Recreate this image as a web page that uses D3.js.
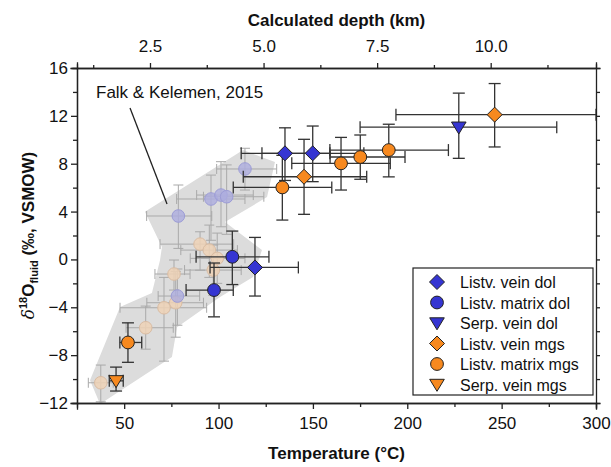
<!DOCTYPE html>
<html>
<head>
<meta charset="utf-8">
<script src="https://cdn.jsdelivr.net/npm/d3@7"></script>
<style>
  body { margin: 0; background: #fff; }
  svg { font-family: "Liberation Sans", Arial, sans-serif; }
  .axis text { font-size: 17px; fill: #111; }
  .axis path, .axis line { stroke: #222; stroke-width: 1.3; }
</style>
</head>
<body>
<svg class="chart" width="611" height="467"></svg>
<script>
// temperature (C) and d18O fluid, with error bar ends
const listvVeinDol = [
  { t: 135.2, d: 8.87, tLo: 112, tHi: 159, dLo: 6.6, dHi: 11.0 },
  { t: 149.9, d: 8.87, tLo: 123, tHi: 177, dLo: 6.5, dHi: 11.15 },
  { t: 119.3, d: -0.67, tLo: 95.5, tHi: 142.3, dLo: -3.06, dHi: 1.84 }
];
const listvMatrixDol = [
  { t: 107.3, d: 0.22, tLo: 88.1, tHi: 126.7, dLo: -2.1, dHi: 2.37 },
  { t: 97.6, d: -2.56, tLo: 82.8, tHi: 107.8, dLo: -4.8, dHi: -0.3 }
];
const serpVeinDol = [
  { t: 227.3, d: 11.05, tLo: 175, tHi: 279.2, dLo: 8.45, dHi: 13.9 }
];
const listvVeinMgs = [
  { t: 246.3, d: 12.1, tLo: 194, tHi: 300, dLo: 9.4, dHi: 14.7 },
  { t: 145.3, d: 6.91, tLo: 113.1, tHi: 178.5, dLo: 3.77, dHi: 10.04 }
];
const listvMatrixMgs = [
  { t: 133.8, d: 6.02, tLo: 107.8, tHi: 160, dLo: 3.29, dHi: 8.7 },
  { t: 164.9, d: 8.03, tLo: 138.8, tHi: 191, dLo: 5.8, dHi: 10.2 },
  { t: 175.1, d: 8.56, tLo: 159.1, tHi: 198.8, dLo: 6.7, dHi: 10.4 },
  { t: 190.2, d: 9.14, tLo: 159, tHi: 221.8, dLo: 6.9, dHi: 11.3 },
  { t: 52, d: -6.94, tLo: 47.7, tHi: 59.3, dLo: -8.6, dHi: -5.3 }
];
const serpVeinMgs = [
  { t: 45.7, d: -10.15, tLo: 42.1, tHi: 49.5, dLo: -11.0, dHi: -9.0 }
];

// Falk & Kelemen, 2015 (faded)
const falkDol = [
  { t: 78.7, d: 3.63, tLo: 61.9, tHi: 96.4, dLo: 0.92, dHi: 6.22 },
  { t: 96, d: 5.05, tLo: 77.8, tHi: 114, dLo: 1.6, dHi: 7.05 },
  { t: 101.3, d: 5.38, tLo: 88.4, tHi: 118.4, dLo: 2.73, dHi: 8.17 },
  { t: 104.3, d: 5.24, tLo: 92, tHi: 124, dLo: 2.1, dHi: 7.9 },
  { t: 114, d: 7.56, tLo: 99, tHi: 130.8, dLo: 5.8, dHi: 9.29 },
  { t: 78.2, d: -3.06, tLo: 68, tHi: 90, dLo: -5.5, dHi: -0.8 }
];
const falkMgs = [
  { t: 90.2, d: 1.28, tLo: 69, tHi: 108, dLo: -0.9, dHi: 2.31 },
  { t: 95.1, d: 0.78, tLo: 80, tHi: 110, dLo: -1.5, dHi: 2.87 },
  { t: 99.3, d: 0.09, tLo: 85, tHi: 114, dLo: -2.0, dHi: 2.2 },
  { t: 97.2, d: -0.89, tLo: 82, tHi: 112, dLo: -3.0, dHi: 1.2 },
  { t: 76.4, d: -1.22, tLo: 66.3, tHi: 84.9, dLo: -2.56, dHi: -0.05 },
  { t: 77.3, d: -3.62, tLo: 62, tHi: 92, dLo: -6.5, dHi: -1.0 },
  { t: 71.1, d: -4.04, tLo: 47.8, tHi: 93.7, dLo: -8.5, dHi: -1.5 },
  { t: 61.4, d: -5.71, tLo: 51, tHi: 76, dLo: -7.5, dHi: -3.9 },
  { t: 37.6, d: -10.31, tLo: 31, tHi: 44.2, dLo: -11.9, dHi: -8.83 }
];
// outline of the grey field
const falkFieldT = [61.0, 113.0, 129.9, 125.7, 103.4, 123.0, 118.3, 100.8, 78.0, 75.3, 37.2, 31.9, 47.8, 64.7, 69.0, 70.0];
const falkFieldD = [3.98, 9.14, 8.14, 5.21, 3.12, 0.78, -1.47, -3.15, -5.66, -8.16, -12.09, -10.09, -3.98, -2.81, -0.05, 1.03];

const tempTicks = [50, 100, 150, 200, 250, 300];
const tempMinor = [75, 125, 175, 225, 275];
const d18Ticks = [-12, -8, -4, 0, 4, 8, 12, 16];
const d18Minor = [-10, -6, -2, 2, 6, 10, 14];
const depthTicks = [2.5, 5.0, 7.5, 10.0];
const depthMinor = [1.25, 3.75, 6.25, 8.75, 11.25];

const legendLabels = ['Listv. vein dol', 'Listv. matrix dol', 'Serp. vein dol',
  'Listv. vein mgs', 'Listv. matrix mgs', 'Serp. vein mgs'];

// geotherm used for the top axis
const SURFACE_T = 3.5;
const GRADIENT = 24.07; // C per km

const BLUE = '#3535d2';
const ORANGE = '#f7891f';

const drawChart = () => {
  const svg = d3.select('.chart');
  const left = 77, right = 596, top = 68, bottom = 403;

  const x = d3.scaleLinear().domain([25, 300]).range([left, right]);
  const y = d3.scaleLinear().domain([-12, 16]).range([bottom, top]);
  const depth = d3.scaleLinear()
    .domain([(25 - SURFACE_T) / GRADIENT, (300 - SURFACE_T) / GRADIENT])
    .range([left, right]);

  svg.append('clipPath').attr('id', 'plotClip')
    .append('rect').attr('x', left).attr('y', top)
    .attr('width', right - left).attr('height', bottom - top);

  const plot = svg.append('g').attr('clip-path', 'url(#plotClip)');

  // grey field
  plot.append('path')
    .datum(d3.zip(falkFieldT, falkFieldD))
    .attr('d', d3.line().x((p) => x(p[0])).y((p) => y(p[1])).curve(d3.curveLinearClosed))
    .attr('fill', '#dcdcdc');

  const errorBars = (g, data, color, width, cap) => {
    var bars = g.append('g').attr('stroke', color).attr('stroke-width', width).attr('fill', 'none');
    data.forEach((p) => {
      bars.append('line').attr('x1', x(p.tLo)).attr('x2', x(p.tHi)).attr('y1', y(p.d)).attr('y2', y(p.d));
      bars.append('line').attr('x1', x(p.t)).attr('x2', x(p.t)).attr('y1', y(p.dLo)).attr('y2', y(p.dHi));
      [p.tLo, p.tHi].forEach((v) => bars.append('line')
        .attr('x1', x(v)).attr('x2', x(v)).attr('y1', y(p.d) - cap).attr('y2', y(p.d) + cap));
      [p.dLo, p.dHi].forEach((v) => bars.append('line')
        .attr('x1', x(p.t) - cap).attr('x2', x(p.t) + cap).attr('y1', y(v)).attr('y2', y(v)));
    });
  };

  // faded literature points
  errorBars(plot, falkDol.concat(falkMgs), '#a9a9a9', 1, 5);
  plot.selectAll('.falk-mgs').data(falkMgs).enter()
    .append('circle').attr('class', 'falk-mgs')
    .attr('cx', (d) => x(d.t)).attr('cy', (d) => y(d.d)).attr('r', 6.3)
    .attr('fill', '#efd2b6').attr('stroke', '#d9bca3').attr('stroke-width', 1).attr('fill-opacity', 0.85);
  plot.selectAll('.falk-dol').data(falkDol).enter()
    .append('circle').attr('class', 'falk-dol')
    .attr('cx', (d) => x(d.t)).attr('cy', (d) => y(d.d)).attr('r', 6.3)
    .attr('fill', '#acacdf').attr('stroke', '#9c9cd6').attr('stroke-width', 1).attr('fill-opacity', 0.8);

  // label and pointer
  svg.append('text').attr('x', 96).attr('y', 98).attr('font-size', 17).attr('fill', '#111')
    .text('Falk & Kelemen, 2015');
  svg.append('line')
    .attr('x1', x(53.1)).attr('y1', y(12.66)).attr('x2', x(72.7)).attr('y2', y(4.63))
    .attr('stroke', '#222').attr('stroke-width', 1.3);

  const shapes = {
    diamond: 'M0,-7.5L7.5,0L0,7.5L-7.5,0Z',
    triangle: 'M-7.3,-5.2L7.3,-5.2L0,6.8Z'
  };
  const series = [
    { data: listvVeinDol, shape: 'diamond', color: BLUE },
    { data: listvMatrixDol, shape: 'circle', color: BLUE },
    { data: serpVeinDol, shape: 'triangle', color: BLUE },
    { data: listvVeinMgs, shape: 'diamond', color: ORANGE },
    { data: listvMatrixMgs, shape: 'circle', color: ORANGE },
    { data: serpVeinMgs, shape: 'triangle', color: ORANGE }
  ];

  const marker = (g, shape, color, cx, cy) => {
    if (shape === 'circle') {
      g.append('circle').attr('cx', cx).attr('cy', cy).attr('r', 6.4)
        .attr('fill', color).attr('stroke', '#222').attr('stroke-width', 1);
    } else {
      g.append('path').attr('d', shapes[shape])
        .attr('transform', 'translate(' + cx + ',' + cy + ')')
        .attr('fill', color).attr('stroke', '#222').attr('stroke-width', 1);
    }
  };

  series.forEach((s) => errorBars(plot, s.data, '#333', 1.3, 6));
  series.forEach((s) => s.data.forEach((p) => marker(plot, s.shape, s.color, x(p.t), y(p.d))));

  // axes
  const axisG = (transform) => svg.append('g').attr('class', 'axis').attr('transform', transform);

  axisG('translate(0,' + bottom + ')')
    .call(d3.axisBottom(x).tickValues(tempTicks).tickSize(6).tickPadding(8).tickFormat(d3.format('d')));
  axisG('translate(0,' + bottom + ')')
    .call(d3.axisBottom(x).tickValues(tempMinor).tickSize(4).tickFormat(''));
  axisG('translate(' + left + ',0)')
    .call(d3.axisLeft(y).tickValues(d18Ticks).tickSize(6).tickPadding(3).tickFormat(d3.format('d')));
  axisG('translate(' + left + ',0)')
    .call(d3.axisLeft(y).tickValues(d18Minor).tickSize(4).tickFormat(''));
  axisG('translate(0,' + top + ')')
    .call(d3.axisTop(depth).tickValues(depthTicks).tickSize(5).tickPadding(11).tickFormat(d3.format('.1f')));
  axisG('translate(0,' + top + ')')
    .call(d3.axisTop(depth).tickValues(depthMinor).tickSize(3).tickFormat(''));
  axisG('translate(' + right + ',0)')
    .call(d3.axisLeft(y).tickValues(d18Ticks.concat(d18Minor)).tickSize(-4).tickFormat(''));
  svg.selectAll('.axis .domain').attr('stroke-linecap', 'square');
  // right frame and x-tick marks at the top of the plot for the temperature scale are absent in source

  // titles
  svg.append('text').attr('x', (left + right) / 2).attr('y', 459)
    .attr('text-anchor', 'middle').attr('font-size', 17).attr('font-weight', 'bold').attr('fill', '#111')
    .text('Temperature (°C)');
  svg.append('text').attr('x', (left + right) / 2).attr('y', 26)
    .attr('text-anchor', 'middle').attr('font-size', 17).attr('font-weight', 'bold').attr('fill', '#111')
    .text('Calculated depth (km)');

  var yTitle = svg.append('text')
    .attr('transform', 'translate(34,' + ((top + bottom) / 2) + ') rotate(-90)')
    .attr('text-anchor', 'middle').attr('font-size', 17).attr('font-weight', 'bold').attr('fill', '#111');
  yTitle.append('tspan').attr('font-style', 'italic').attr('font-family', '"DejaVu Serif", serif').attr('font-weight', 'normal').text('δ');
  yTitle.append('tspan').attr('font-size', 11).attr('dy', -7).text('18');
  yTitle.append('tspan').attr('dy', 7).text('O');
  yTitle.append('tspan').attr('font-size', 11).attr('dy', 4).text('fluid');
  yTitle.append('tspan').attr('dy', -4).text(' (‰, VSMOW)');

  // legend
  const lx = 413, ly = 268, lw = 180, lh = 127, rowH = 20.5;
  var legend = svg.append('g');
  legend.append('rect').attr('x', lx).attr('y', ly).attr('width', lw).attr('height', lh)
    .attr('fill', '#fff').attr('stroke', '#222').attr('stroke-width', 1.2);
  series.forEach((s, i) => {
    var cy = ly + 14 + i * rowH;
    marker(legend, s.shape, s.color, lx + 24, cy);
    legend.append('text').attr('x', lx + 47).attr('y', cy + 6)
      .attr('font-size', 16).attr('fill', '#111').text(legendLabels[i]);
  });
};

document.addEventListener('DOMContentLoaded', drawChart, false);
</script>
</body>
</html>
